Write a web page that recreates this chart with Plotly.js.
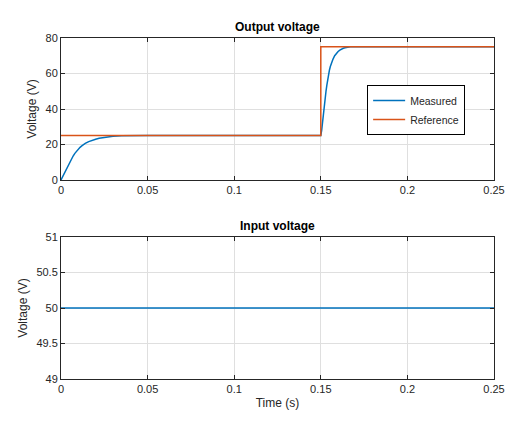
<!DOCTYPE html>
<html>
<head>
<meta charset="utf-8">
<script src="https://cdn.plot.ly/plotly-3.0.1.min.js"></script>
<style>html,body{margin:0;padding:0;background:#fff;}</style>
</head>
<body>
<div id="chart" style="width:531px;height:424px;"></div>
<script>
// Measured output voltage
var measuredT = [0, 0.001, 0.002, 0.003, 0.004, 0.005, 0.006, 0.007, 0.008, 0.009, 0.010, 0.011, 0.012, 0.013, 0.014, 0.016, 0.018, 0.020, 0.022, 0.025, 0.028, 0.030, 0.035, 0.040, 0.050, 0.100, 0.1500,
                 0.1505, 0.151, 0.1515, 0.152, 0.1525, 0.153, 0.1535, 0.154, 0.1545, 0.155, 0.1555, 0.156, 0.157, 0.158, 0.159, 0.160, 0.161, 0.162, 0.163, 0.164, 0.165, 0.167, 0.170, 0.200, 0.250];
var measuredV = [0, 2, 4, 6, 8, 10, 11.8, 13.5, 15.0, 16.3, 17.4, 18.4, 19.2, 20.0, 20.6, 21.6, 22.4, 23.0, 23.5, 24.0, 24.4, 24.6, 24.9, 25, 25, 25, 25,
                 28, 33, 37, 41, 45.5, 50, 53.5, 57, 59.7, 62, 63.9, 65.5, 68, 70, 71.4, 72.4, 73.2, 73.8, 74.2, 74.5, 74.7, 75, 75, 75, 75];
// Reference voltage
var referenceT = [0, 0.15, 0.15, 0.25];
var referenceV = [25, 25, 75, 75];
// Input voltage
var inputT = [0, 0.25];
var inputV = [50, 50];

var xTicks = [0, 0.05, 0.1, 0.15, 0.2, 0.25];
var xTickText = ['0', '0.05', '0.1', '0.15', '0.2', '0.25'];
var y1Ticks = [0, 20, 40, 60, 80];
var y2Ticks = [49, 49.5, 50, 50.5, 51];
var y2TickText = ['49', '49.5', '50', '50.5', '51'];

var blue = '#0072BD', orange = '#D95319', axc = '#262626', gridc = '#dfdfdf';
var FONT = 'Liberation Sans, Arial, Helvetica, sans-serif';

var traces = [
  {x: measuredT, y: measuredV, type: 'scatter', mode: 'lines', name: 'Measured',
   line: {color: blue, width: 1.5}, xaxis: 'x', yaxis: 'y'},
  {x: referenceT, y: referenceV, type: 'scatter', mode: 'lines', name: 'Reference',
   line: {color: orange, width: 1.5}, xaxis: 'x', yaxis: 'y'},
  {x: inputT, y: inputV, type: 'scatter', mode: 'lines', name: 'Input', showlegend: false,
   line: {color: blue, width: 1.5}, xaxis: 'x2', yaxis: 'y2'}
];

function xa(anchor, showTitle) {
  var a = {range: [0, 0.25], tickvals: xTicks, ticktext: xTickText, anchor: anchor,
    showgrid: true, gridcolor: gridc, zeroline: false, showline: true, linecolor: axc, linewidth: 1,
    mirror: 'ticks', ticks: 'inside', ticklen: 4, tickcolor: axc, tickfont: {size: 11, color: axc, family: FONT}};
  if (showTitle) a.title = {text: 'Time (s)', font: {size: 12, color: axc, family: FONT}, standoff: 4};
  return a;
}
function ya(anchor, domain, range, vals, text) {
  return {range: range, tickvals: vals, ticktext: text, anchor: anchor, domain: domain,
    showgrid: true, gridcolor: gridc, zeroline: false, showline: true, linecolor: axc, linewidth: 1,
    mirror: 'ticks', ticks: 'inside', ticklen: 4, tickcolor: axc, tickfont: {size: 11, color: axc, family: FONT},
    title: {text: 'Voltage (V)', font: {size: 12, color: axc, family: FONT}, standoff: 6}};
}

var layout = {
  width: 531, height: 424,
  margin: {l: 61, r: 37, t: 38, b: 45},
  paper_bgcolor: '#fff', plot_bgcolor: '#fff',
  font: {family: FONT, color: axc},
  showlegend: true,
  legend: {x: 0.707, y: 0.862, xanchor: 'left', yanchor: 'top', bgcolor: '#fff',
    bordercolor: '#000', borderwidth: 1, font: {size: 10.5, color: axc, family: FONT},
    tracegroupgap: 0, itemwidth: 32},
  xaxis: xa('y', false),
  yaxis: ya('x', [0.5836, 1], [0, 80], y1Ticks, ['0', '20', '40', '60', '80']),
  xaxis2: xa('y2', true),
  yaxis2: ya('x2', [0, 0.4164], [49, 51], y2Ticks, y2TickText),
  annotations: [
    {text: '<b>Output voltage</b>', xref: 'paper', yref: 'paper', x: 0.5, y: 1, yanchor: 'bottom',
     yshift: 2, showarrow: false, font: {size: 12, color: '#000', family: FONT}},
    {text: '<b>Input voltage</b>', xref: 'paper', yref: 'paper', x: 0.5, y: 0.4164, yanchor: 'bottom',
     yshift: 2, showarrow: false, font: {size: 12, color: '#000', family: FONT}}
  ]
};

Plotly.newPlot('chart', traces, layout, {displayModeBar: false, staticPlot: true});
</script>
</body>
</html>
